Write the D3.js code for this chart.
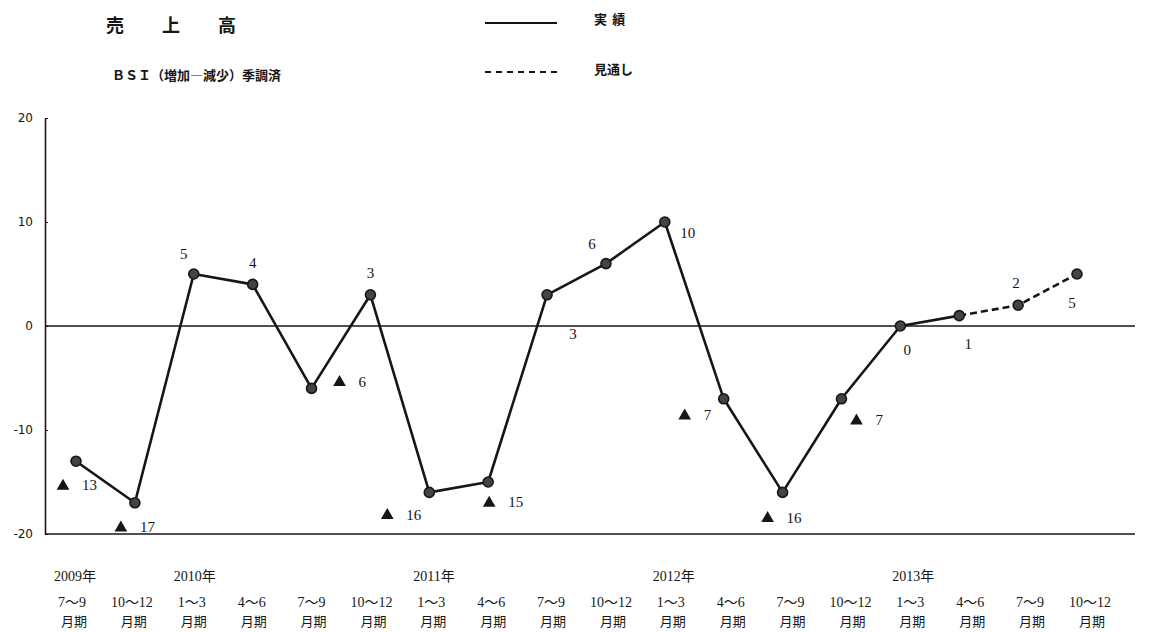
<!DOCTYPE html>
<html>
<head>
<meta charset="utf-8">
<script src="https://cdn.jsdelivr.net/npm/d3@7"></script>
<style>
  body { margin: 0; background: #fff; }
  svg { display: block; }
</style>
</head>
<body>
<svg id="chart" width="1151" height="632"></svg>
<script>
// Sales BSI (increase minus decrease), seasonally adjusted
const quarters = ["7～9", "10～12", "1～3", "4～6", "7～9", "10～12", "1～3", "4～6", "7～9",
                  "10～12", "1～3", "4～6", "7～9", "10～12", "1～3", "4～6", "7～9", "10～12"];
const yearLabels = ["2009年", "2010年", "2011年", "2012年", "2013年"];
const yearStartIndex = [0, 2, 6, 10, 14];
const values = [-13, -17, 5, 4, -6, 3, -16, -15, 3, 6, 10, -7, -16, -7, 0, 1, 2, 5];
const lastActualIndex = 15;          // 2013年4～6月期; later periods are forecasts
const yTicks = [20, 10, 0, -10, -20];

// label offsets from each point: [dx, dy]
const labelPlacement = [
  [-13, 24], [-14, 24], [-10, -20], [0, -22], [28, -7], [0, -22],
  [-42, 22], [1, 20], [26, 39], [-14, -20], [23, 11], [-39, 16],
  [-15, 25], [15, 21], [7, 24], [9, 28], [-2, -22], [-5, 29]
];

const svg = d3.select("#chart");
const ink = "#161616";

const x = d3.scalePoint().domain(d3.range(values.length)).range([76, 1077]);
const y = d3.scaleLinear().domain([-20, 20]).range([534, 118]);
const labelX = d3.scalePoint().domain(d3.range(values.length)).range([72, 1090]);

const axisLeft = 45, axisRight = 1135;

// Header
svg.append("text").attr("x", 106).attr("y", 32)
  .attr("font-family", "Noto Sans CJK JP").attr("font-weight", 700).attr("font-size", 18)
  .attr("fill", ink).attr("letter-spacing", "38px").text("売上高");
svg.append("text").attr("x", 112).attr("y", 80)
  .attr("font-family", "Noto Sans CJK JP").attr("font-weight", 700).attr("font-size", 13)
  .attr("fill", ink).text("ＢＳＩ（増加―減少）季調済");

// Legend
svg.append("line").attr("x1", 485).attr("x2", 557).attr("y1", 23).attr("y2", 23)
  .attr("stroke", ink).attr("stroke-width", 1.8);
svg.append("line").attr("x1", 485).attr("x2", 557).attr("y1", 72).attr("y2", 72)
  .attr("stroke", ink).attr("stroke-width", 2).attr("stroke-dasharray", "6,5");
svg.append("text").attr("x", 594).attr("y", 24)
  .attr("font-family", "Noto Sans CJK JP").attr("font-weight", 700).attr("font-size", 13)
  .attr("fill", ink).attr("letter-spacing", "0.4em").text("実績");
svg.append("text").attr("x", 594).attr("y", 74)
  .attr("font-family", "Noto Sans CJK JP").attr("font-weight", 700).attr("font-size", 13)
  .attr("fill", ink).text("見通し");

// Y axis
const yAxis = d3.axisLeft(y).tickValues(yTicks).tickSizeInner(-3).tickSizeOuter(0).tickPadding(12)
  .tickFormat(d => d);
const gy = svg.append("g").attr("transform", `translate(${axisLeft},0)`).call(yAxis);
gy.select(".domain").attr("stroke", ink).attr("stroke-width", 1.6);
gy.selectAll(".tick line").attr("stroke", ink);
gy.selectAll(".tick text").attr("font-family", "DejaVu Sans").attr("font-size", 12)
  .attr("fill", ink);

// Zero line and baseline
svg.append("line").attr("x1", axisLeft).attr("x2", axisRight)
  .attr("y1", y(0)).attr("y2", y(0)).attr("stroke", ink).attr("stroke-width", 1.3);
svg.append("line").attr("x1", axisLeft).attr("x2", axisRight)
  .attr("y1", y(-20)).attr("y2", y(-20)).attr("stroke", ink).attr("stroke-width", 1.6);

// Lines
const pts = values.map((v, i) => [i, v]);
const line = d3.line().x(d => x(d[0])).y(d => y(d[1]));
svg.append("path").datum(pts.slice(0, lastActualIndex + 1)).attr("d", line)
  .attr("fill", "none").attr("stroke", ink).attr("stroke-width", 2.6).attr("stroke-linejoin", "round");
svg.append("path").datum(pts.slice(lastActualIndex)).attr("d", line)
  .attr("fill", "none").attr("stroke", ink).attr("stroke-width", 2.6).attr("stroke-dasharray", "7,4");

// Markers
svg.append("g").selectAll("circle").data(pts).join("circle")
  .attr("cx", d => x(d[0])).attr("cy", d => y(d[1])).attr("r", 5)
  .attr("fill", "#444").attr("stroke", ink).attr("stroke-width", 1.6);

// Value labels (negative values written with ▲)
const valueFont = "Liberation Serif";
const lg = svg.append("g");
pts.forEach(([i, v]) => {
  const [dx, dy] = labelPlacement[i];
  const cx = x(i) + dx, cy = y(v) + dy;
  if (v < 0) {
    lg.append("path").attr("d", d3.symbol(d3.symbolTriangle, 70)())
      .attr("transform", `translate(${cx},${cy + 1})`).attr("fill", ink);
    lg.append("text").attr("x", cx + 19).attr("y", cy).attr("dy", "0.35em")
      .attr("font-family", valueFont).attr("font-size", 15).attr("fill", ink)
      .text(Math.abs(v));
  } else {
    lg.append("text").attr("x", cx).attr("y", cy).attr("dy", "0.35em")
      .attr("text-anchor", "middle")
      .attr("font-family", valueFont).attr("font-size", 15).attr("fill", ink)
      .text(v);
  }
});

// Period labels
const xl = svg.append("g");
quarters.forEach((q, i) => {
  xl.append("text").attr("x", labelX(i)).attr("y", 607).attr("text-anchor", "middle")
    .attr("font-family", "Liberation Serif, Noto Sans CJK JP").attr("font-size", 14)
    .attr("fill", ink).text(q);
  xl.append("text").attr("x", labelX(i) + 2).attr("y", 626).attr("text-anchor", "middle")
    .attr("font-family", "Noto Sans CJK JP").attr("font-size", 13)
    .attr("fill", ink).text("月期");
});
yearLabels.forEach((yl, k) => {
  const i = yearStartIndex[k];
  xl.append("text").attr("x", labelX(i) - 18).attr("y", 581)
    .attr("font-family", "Liberation Serif, Noto Sans CJK JP").attr("font-size", 14)
    .attr("fill", ink).text(yl);
});
</script>
</body>
</html>
